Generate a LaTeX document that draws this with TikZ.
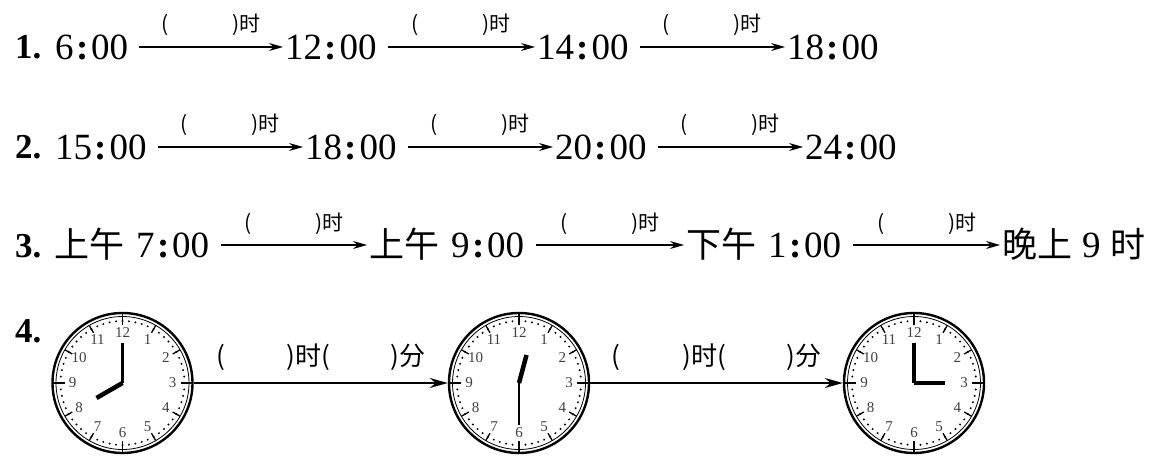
\documentclass[tikz,border=0pt]{standalone}
\usepackage{fontspec}
\setmainfont{Liberation Serif}
\newfontfamily\cjk{Noto Sans CJK SC}
\usetikzlibrary{arrows.meta}
\newcommand\cl{\kern2.5pt\textbf{:}\kern2.5pt}
\tikzset{
  num/.style={anchor=west, inner sep=0pt, font=\fontsize{37}{37}\selectfont, text height=25pt, text depth=0pt},
  idx/.style={anchor=base west, inner sep=0pt, font=\bfseries\fontsize{35}{35}\selectfont},
  arr/.style={-{Stealth[length=14pt,width=8pt]}, line width=1.1pt},
  arrb/.style={-{Stealth[length=18pt,width=10pt]}, line width=1.8pt},
  lbl/.style={font=\cjk\fontsize{21}{21}\selectfont, inner sep=0pt},
  lblb/.style={font=\cjk\fontsize{26}{26}\selectfont, inner sep=0pt},
  clockrim/.style={circle, draw, line width=2.4pt, minimum size=140pt, inner sep=0pt},
  clknum/.style={font=\fontsize{15}{15}\selectfont, text=black!75, inner sep=0pt},
}
\newcommand\drawclock[6]{% center, hour angle, hour len, minute angle, minute len, minute width
  \begin{scope}[shift={(#1)}]
    \draw[line width=0.8pt] (0,0) circle (66.5);
    \foreach \a in {0,6,...,354} \fill (\a:62) circle (1.1);
    \foreach \a in {30,60,120,150,210,240,300,330} \draw[line width=1.3pt] (\a:66.5) -- (\a:58);
    \foreach \a in {0,90,180,270} \draw[line width=1.3pt] (\a:70) -- (\a:58);
    \foreach \n in {1,...,12} \node[clknum] at ({90-30*\n}:50) {\n};
    \draw[line width=#6, line cap=butt] (0,0) -- (#4:#5);
    \draw[line width=4.5pt, line cap=butt] (0,0) -- (#2:#3);
  \end{scope}}
\begin{document}
\begin{tikzpicture}[x=1pt,y=1pt]
\useasboundingbox (0,0) rectangle (1155,-457);
% row 1
\node[idx] (i1) at (15,-59) {1.};
\node[num] (a1) at (55,-47) {6\cl00};
\node[num] (a2) at (285,-47) {12\cl00};
\node[num] (a3) at (537,-47) {14\cl00};
\node[num] (a4) at (787,-47) {18\cl00};
\draw[arr] ([xshift=11pt]a1.east) -- ([xshift=-2pt]a2.west) node[lbl, midway, yshift=22pt] (l11) {(\hspace{64pt})时};
\draw[arr] ([xshift=11pt]a2.east) -- ([xshift=-2pt]a3.west) node[lbl, midway, yshift=22pt] (l12) {(\hspace{64pt})时};
\draw[arr] ([xshift=11pt]a3.east) -- ([xshift=-2pt]a4.west) node[lbl, midway, yshift=22pt] (l13) {(\hspace{64pt})时};
% row 2
\node[idx] (i2) at (15,-159) {2.};
\node[num] (b1) at (55,-147) {15\cl00};
\node[num] (b2) at (305,-147) {18\cl00};
\node[num] (b3) at (555,-147) {20\cl00};
\node[num] (b4) at (805,-147) {24\cl00};
\draw[arr] ([xshift=11pt]b1.east) -- ([xshift=-2pt]b2.west) node[lbl, midway, yshift=22pt] (l21) {(\hspace{64pt})时};
\draw[arr] ([xshift=11pt]b2.east) -- ([xshift=-2pt]b3.west) node[lbl, midway, yshift=22pt] (l22) {(\hspace{64pt})时};
\draw[arr] ([xshift=11pt]b3.east) -- ([xshift=-2pt]b4.west) node[lbl, midway, yshift=22pt] (l23) {(\hspace{64pt})时};
% row 3
\node[idx] (i3) at (15,-257) {3.};
\node[num] (d1) at (54,-245) {{\cjk\fontsize{35}{35}\selectfont 上午}\hspace{12pt}7\cl00};
\node[num] (d2) at (369,-245) {{\cjk\fontsize{35}{35}\selectfont 上午}\hspace{12pt}9\cl00};
\node[num] (d3) at (686,-245) {{\cjk\fontsize{35}{35}\selectfont 下午}\hspace{12pt}1\cl00};
\node[num] (d4) at (1002,-245) {{\cjk\fontsize{35}{35}\selectfont 晚上}\hspace{10pt}9\hspace{10pt}{\cjk\fontsize{35}{35}\selectfont 时}};
\draw[arr] ([xshift=12pt]d1.east) -- ([xshift=-2pt]d2.west) node[lbl, midway, yshift=21pt] (l31) {(\hspace{64pt})时};
\draw[arr] ([xshift=12pt]d2.east) -- ([xshift=-2pt]d3.west) node[lbl, midway, yshift=21pt] (l32) {(\hspace{64pt})时};
\draw[arr] ([xshift=12pt]d3.east) -- ([xshift=-2pt]d4.west) node[lbl, midway, yshift=21pt] (l33) {(\hspace{64pt})时};
% row 4
\node[idx] (i4) at (15,-342) {4.};
\node[clockrim] (c1) at (122.5,-383) {};
\node[clockrim] (c2) at (519,-383) {};
\node[clockrim] (c3) at (914,-383) {};
\drawclock{c1.center}{-150}{30}{90}{40}{2.5pt}
\drawclock{c2.center}{75}{29}{-90}{42}{2.5pt}
\drawclock{c3.center}{0}{31}{90}{40}{3.5pt}
\draw[arrb] (c1.east) -- (c2.west) node[lblb, midway, yshift=26pt] (l41) {(\hspace{62pt})时(\hspace{60pt})分};
\draw[arrb] (c2.east) -- (c3.west) node[lblb, midway, yshift=26pt] (l42) {(\hspace{62pt})时(\hspace{60pt})分};
\end{tikzpicture}
\end{document}
